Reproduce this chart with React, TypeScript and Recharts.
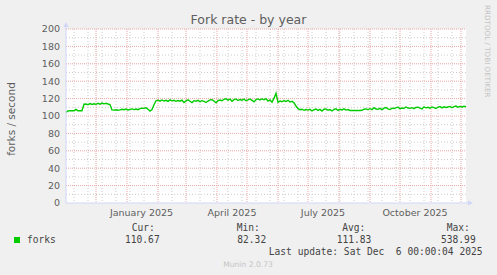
import React from "react";
import {
  LineChart,
  Line,
  XAxis,
  YAxis,
  CartesianGrid,
  ReferenceDot,
} from "recharts";

// Days since 1 Nov 2024, sampled every 2 days (day 0 .. day 400 = 6 Dec 2025)
const sampleStepDays = 2;
const forkValues: number[] = [
  104.2, 105.8, 106.2, 106.0, 106.1, 107.6, 106.0, 106.1, 106.0, 113.5,
  113.8, 113.0, 114.2, 113.2, 114.0, 113.4, 114.5, 113.6, 114.8, 114.0,
  114.6, 113.8, 113.2, 107.0, 106.8, 107.2, 106.6, 107.0, 107.8, 107.2,
  108.0, 107.0, 107.6, 108.2, 107.4, 108.0, 107.2, 108.4, 109.0, 108.8,
  109.4, 107.8, 105.6, 107.5, 113.0, 117.5, 118.2, 117.0, 118.4, 117.2,
  118.0, 116.8, 118.5, 117.4, 118.0, 116.9, 117.8, 117.0, 118.3, 115.6,
  117.4, 118.5, 117.0, 115.4, 117.6, 117.0, 118.0, 116.5, 117.6, 116.8,
  115.5, 117.2, 118.6, 118.8, 117.3, 115.2, 117.6, 118.4, 117.5, 119.2,
  119.8, 118.2, 119.5, 117.0, 118.8, 119.6, 117.8, 119.0, 118.2, 119.4,
  117.6, 118.5, 119.6, 118.0, 116.2, 118.8, 119.6, 118.4, 119.8, 118.6,
  120.0, 117.2, 118.6, 115.8, 120.5, 126.0, 115.6, 117.2, 116.4, 117.8,
  116.6, 118.0, 116.0, 116.8, 115.2, 111.5, 108.4, 107.2, 107.8, 106.6,
  107.4, 106.8, 107.6, 105.8, 107.2, 108.0, 106.4, 107.6, 105.6, 107.8,
  108.2, 106.6, 107.4, 105.8, 107.6, 108.2, 106.4, 107.8, 107.0, 108.2,
  106.8, 107.4, 106.4, 106.3, 106.3, 106.3, 106.3, 106.4, 106.6, 107.8,
  108.2, 107.4, 108.4, 107.2, 109.6, 108.0, 107.6, 108.8, 107.4, 109.0,
  109.8, 108.2, 107.4, 109.0, 108.6, 109.4, 110.2, 108.4, 109.2, 108.8,
  110.4, 109.2, 108.8, 109.6, 108.4, 109.8, 110.2, 109.0, 108.2, 110.6,
  109.4, 110.0, 109.0, 110.4, 109.6, 108.6, 110.2, 110.8, 109.4, 110.6,
  109.8, 110.4, 111.0, 109.6, 110.8, 111.4, 110.2, 111.0, 110.4, 111.2,
  110.7,
];

const xDomain = [0, 400];
const xTickDays = [75.5, 166, 257, 349];
const xTickLabels = ["January 2025", "April 2025", "July 2025", "October 2025"];
const monthStartDays = [30, 61, 92, 120, 151, 181, 212, 242, 273, 304, 334, 365, 395];
const minorGridDays = [
  8, 22, 36, 50, 64, 78, 106, 134, 148, 162, 176, 190, 204, 218, 232, 246,
  260, 274, 288, 302, 316, 330, 344, 358, 372, 386,
];
const yTicks = [0, 20, 40, 60, 80, 100, 120, 140, 160, 180, 200];
const yMajorGrid = [20, 40, 60, 80, 100, 120, 140, 160, 180, 200];
const yMinorGrid = [10, 30, 50, 70, 90, 110, 130, 150, 170, 190];

const legendHeaders = ["Cur:", "Min:", "Avg:", "Max:"];
const legendValues = ["110.67", "82.32", "111.83", "538.99"];

const data = forkValues.map((v, i) => ({ day: i * sampleStepDays, forks: v }));

const AXIS = "#CFD6F8";
const FONT = "#5e5e5e";
const SANS = "'DejaVu Sans', sans-serif";
const MONO = "'DejaVu Sans Mono', monospace";

const UpArrow = (props: any) => {
  const { cx, cy } = props;
  return (
    <g>
      <line x1={cx} y1={cy} x2={cx} y2={cy - 2} stroke={AXIS} />
      <polygon
        points={`${cx - 2.5},${cy - 2} ${cx + 2.5},${cy - 2} ${cx},${cy - 7}`}
        fill={AXIS}
      />
    </g>
  );
};

const RightArrow = (props: any) => {
  const { cx, cy } = props;
  return (
    <g>
      <line x1={cx} y1={cy} x2={cx + 2} y2={cy} stroke={AXIS} />
      <polygon
        points={`${cx + 2},${cy - 2.5} ${cx + 2},${cy + 2.5} ${cx + 7},${cy}`}
        fill={AXIS}
      />
    </g>
  );
};

export default function App() {
  const headerX = [131.7, 236.7, 342.3, 446.7];
  const valueX = [125, 237.3, 336.7, 441];
  return (
    <div
      style={{
        position: "absolute",
        left: 0,
        top: 0,
        width: 497,
        height: 275,
        background: "#F0F0F0",
      }}
    >
      <LineChart
        width={497}
        height={275}
        data={data}
        margin={{ top: 29, right: 31, bottom: 42, left: 6 }}
      >
        <CartesianGrid
          fill="#FFFFFF"
          stroke="#CCCCCC"
          strokeDasharray="1 2"
          horizontalValues={yMinorGrid}
          verticalValues={minorGridDays}
        />
        <CartesianGrid
          stroke="#E8A6A6"
          strokeDasharray="1 1"
          horizontalValues={yMajorGrid}
          verticalValues={monthStartDays}
        />
        <XAxis
          dataKey="day"
          type="number"
          domain={xDomain}
          ticks={xTickDays}
          tickFormatter={(v: number) => xTickLabels[xTickDays.indexOf(v)] ?? ""}
          tickLine={false}
          tickSize={4}
          tickMargin={2}
          height={30}
          axisLine={{ stroke: AXIS }}
          tick={{ fill: FONT, fontSize: 9.5, fontFamily: SANS }}
          interval={0}
          allowDataOverflow
        />
        <YAxis
          type="number"
          domain={[0, 200]}
          ticks={yTicks}
          width={60}
          tickLine={false}
          tickSize={4}
          tickMargin={2}
          axisLine={{ stroke: AXIS }}
          tick={{ fill: FONT, fontSize: 9.5, fontFamily: SANS }}
          interval={0}
        />
        <Line
          type="linear"
          dataKey="forks"
          stroke="#00CC00"
          strokeWidth={1.4}
          dot={false}
          isAnimationActive={false}
        />
        <ReferenceDot x={0} y={200} r={0} ifOverflow="visible" shape={UpArrow} />
        <ReferenceDot x={400} y={0} r={0} ifOverflow="visible" shape={RightArrow} />
      </LineChart>
      <svg
        width={497}
        height={275}
        style={{ position: "absolute", left: 0, top: 0, pointerEvents: "none" }}
      >
        <text
          x={248.5}
          y={23.5}
          textAnchor="middle"
          fontFamily={SANS}
          fontSize={12.5}
          fill={FONT}
        >
          Fork rate - by year
        </text>
        <text
          transform="translate(14.5,119) rotate(-90)"
          textAnchor="middle"
          fontFamily={SANS}
          fontSize={10.5}
          fill={FONT}
        >
          forks / second
        </text>
        <text
          transform="translate(485,5) rotate(90)"
          textAnchor="start"
          fontFamily={SANS}
          fontSize={7.2}
          fill="#C4C4C4"
        >
          RRDTOOL / TOBI OETIKER
        </text>
        <rect x={14} y={237} width={6} height={6} fill="#00CC00" />
        <text x={27} y={242.7} fontFamily={MONO} fontSize={9.6} fill="#444">
          forks
        </text>
        {legendHeaders.map((h, i) => (
          <text key={h} x={headerX[i]} y={231} fontFamily={MONO} fontSize={9.6} fill="#444">
            {h}
          </text>
        ))}
        {legendValues.map((v, i) => (
          <text key={v} x={valueX[i]} y={242.7} fontFamily={MONO} fontSize={9.6} fill="#444">
            {v}
          </text>
        ))}
        <text
          x={482.5}
          y={254.5}
          textAnchor="end"
          fontFamily={MONO}
          fontSize={9.6}
          fill="#444"
          style={{ whiteSpace: "pre" }}
        >
          {"Last update: Sat Dec  6 00:00:04 2025"}
        </text>
        <text
          x={248}
          y={267}
          textAnchor="middle"
          fontFamily={SANS}
          fontSize={7.6}
          fill="#C4C4C4"
        >
          Munin 2.0.73
        </text>
      </svg>
    </div>
  );
}
